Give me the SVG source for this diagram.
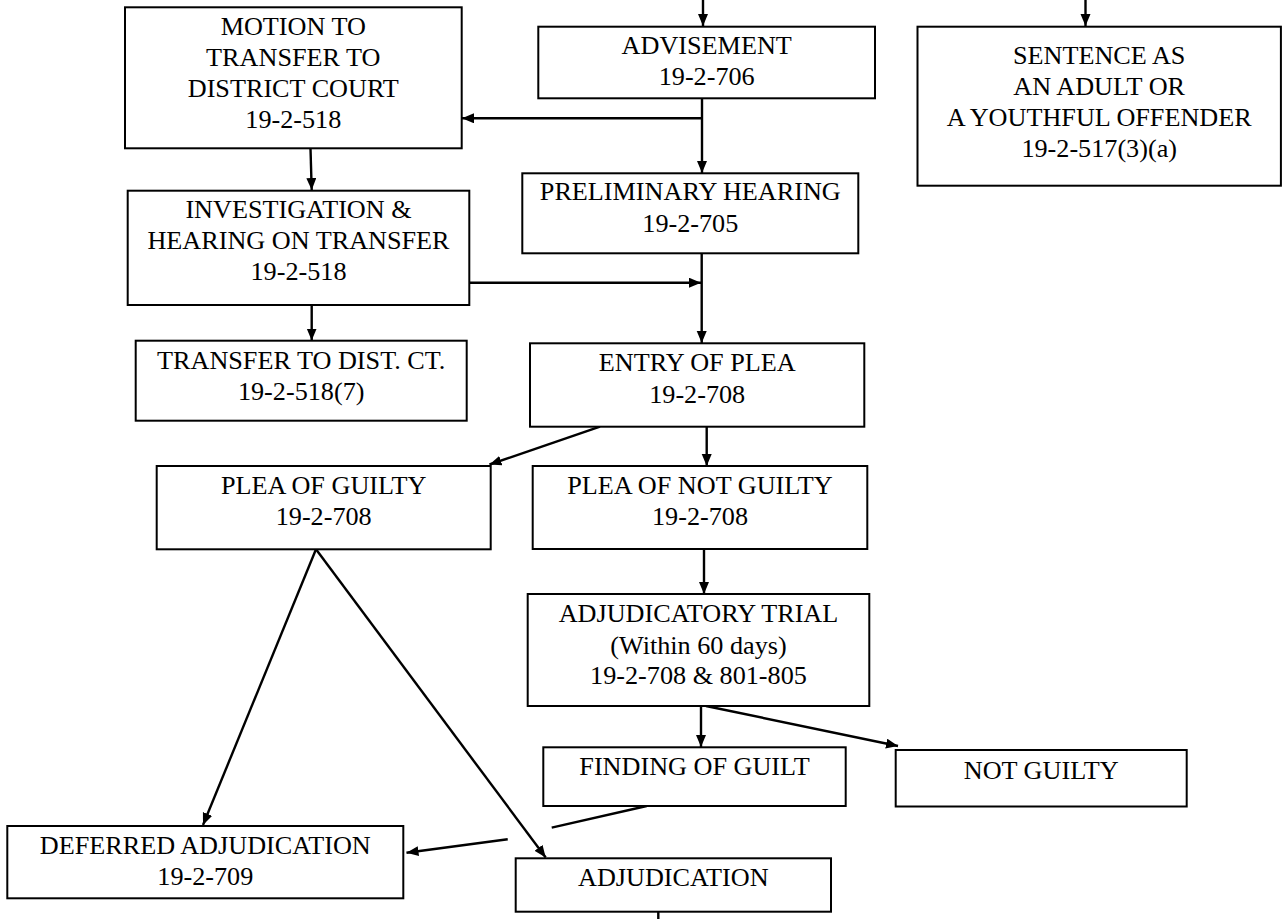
<svg xmlns="http://www.w3.org/2000/svg" width="1285" height="919" viewBox="0 0 1285 919">
<style>
rect.box{fill:#fff;stroke:#000;stroke-width:2}
text{font-family:"Liberation Serif","Times New Roman",serif;font-size:26.2px;fill:#000;text-anchor:middle}
.c line,.c path{stroke:#000;stroke-width:2.4;fill:none}
</style>
<defs>
<marker id="ah" markerUnits="userSpaceOnUse" markerWidth="13" markerHeight="11" refX="12" refY="5" orient="auto">
<path d="M0,0 L12,5 L0,10 z" fill="#000"/>
</marker>
</defs>
<rect width="1285" height="919" fill="#fff"/>
<g class="c" id="connectors">
<line x1="703" y1="0" x2="703" y2="26" marker-end="url(#ah)"/>
<line x1="1085.5" y1="0" x2="1085.5" y2="26" marker-end="url(#ah)"/>
<line x1="702" y1="98" x2="702" y2="173" marker-end="url(#ah)"/>
<line x1="702" y1="118.3" x2="462" y2="118.3" marker-end="url(#ah)"/>
<line x1="310.5" y1="148.5" x2="311.7" y2="190" marker-end="url(#ah)"/>
<line x1="469.5" y1="282.7" x2="701" y2="282.7" marker-end="url(#ah)"/>
<line x1="701.7" y1="253" x2="701.7" y2="343" marker-end="url(#ah)"/>
<line x1="311.7" y1="305" x2="311.7" y2="340.5" marker-end="url(#ah)"/>
<line x1="600" y1="426.7" x2="489.5" y2="464.5" marker-end="url(#ah)"/>
<line x1="706.7" y1="426.7" x2="706.7" y2="466" marker-end="url(#ah)"/>
<line x1="704" y1="549" x2="704" y2="594" marker-end="url(#ah)"/>
<line x1="701" y1="706" x2="701" y2="747" marker-end="url(#ah)"/>
<line x1="706" y1="706" x2="898" y2="746" marker-end="url(#ah)"/>
<line x1="316" y1="549.3" x2="203" y2="825" marker-end="url(#ah)"/>
<line x1="316" y1="549.3" x2="545.7" y2="857.5" marker-end="url(#ah)"/>
<line x1="646.7" y1="806" x2="551.7" y2="827.7"/>
<line x1="507.7" y1="839.3" x2="406.5" y2="852.7" marker-end="url(#ah)"/>
<line x1="658.3" y1="911.7" x2="658.3" y2="919"/>
</g>
<g id="motion">
<rect class="box" x="125" y="7.3" width="336.7" height="141"/>
<text x="293.3" y="35">MOTION TO</text>
<text x="293.3" y="65.7">TRANSFER TO</text>
<text x="293.3" y="96.7">DISTRICT COURT</text>
<text x="293.3" y="128.3">19-2-518</text>
</g>
<g id="advisement">
<rect class="box" x="538.3" y="26.7" width="336.7" height="71.6"/>
<text x="706.7" y="53.5">ADVISEMENT</text>
<text x="706.7" y="85.2">19-2-706</text>
</g>
<g id="sentence">
<rect class="box" x="917.5" y="26.7" width="363.4" height="159"/>
<text x="1099.2" y="63.5">SENTENCE AS</text>
<text x="1099.2" y="95.2">AN ADULT OR</text>
<text x="1099.2" y="126.2">A YOUTHFUL OFFENDER</text>
<text x="1099.2" y="157">19-2-517(3)(a)</text>
</g>
<g id="preliminary">
<rect class="box" x="522.3" y="173.3" width="336" height="80"/>
<text x="690.3" y="200.2">PRELIMINARY HEARING</text>
<text x="690.3" y="231.9">19-2-705</text>
</g>
<g id="investigation">
<rect class="box" x="127.7" y="190.7" width="341.6" height="114.3"/>
<text x="298.5" y="217.5">INVESTIGATION &amp;</text>
<text x="298.5" y="248.5">HEARING ON TRANSFER</text>
<text x="298.5" y="279.5">19-2-518</text>
</g>
<g id="transfer">
<rect class="box" x="135.7" y="340.7" width="331" height="80"/>
<text x="301.2" y="368.5">TRANSFER TO DIST. CT.</text>
<text x="301.2" y="400.2">19-2-518(7)</text>
</g>
<g id="entry">
<rect class="box" x="530" y="343.3" width="334.3" height="83.4"/>
<text x="697.2" y="370.9">ENTRY OF PLEA</text>
<text x="697.2" y="402.9">19-2-708</text>
</g>
<g id="plea-guilty">
<rect class="box" x="156.7" y="466" width="334" height="83.3"/>
<text x="323.7" y="493.5">PLEA OF GUILTY</text>
<text x="323.7" y="525.2">19-2-708</text>
</g>
<g id="plea-not-guilty">
<rect class="box" x="532.7" y="466" width="334.6" height="83"/>
<text x="700" y="493.5">PLEA OF NOT GUILTY</text>
<text x="700" y="525.2">19-2-708</text>
</g>
<g id="adjudicatory-trial">
<rect class="box" x="527.7" y="594" width="341.6" height="112"/>
<text x="698.5" y="621.9">ADJUDICATORY TRIAL</text>
<text x="698.5" y="653.5">(Within 60 days)</text>
<text x="698.5" y="683.5">19-2-708 &amp; 801-805</text>
</g>
<g id="finding">
<rect class="box" x="543.3" y="747.3" width="302.4" height="58.7"/>
<text x="694.5" y="775.3">FINDING OF GUILT</text>
</g>
<g id="not-guilty">
<rect class="box" x="895.7" y="750" width="291" height="56.5"/>
<text x="1041.2" y="778.5">NOT GUILTY</text>
</g>
<g id="deferred">
<rect class="box" x="7.3" y="826" width="396" height="72.3"/>
<text x="205.3" y="853.5">DEFERRED ADJUDICATION</text>
<text x="205.3" y="885.2">19-2-709</text>
</g>
<g id="adjudication">
<rect class="box" x="515.7" y="858.3" width="315.3" height="53.4"/>
<text x="673.3" y="885.8">ADJUDICATION</text>
</g>
</svg>
